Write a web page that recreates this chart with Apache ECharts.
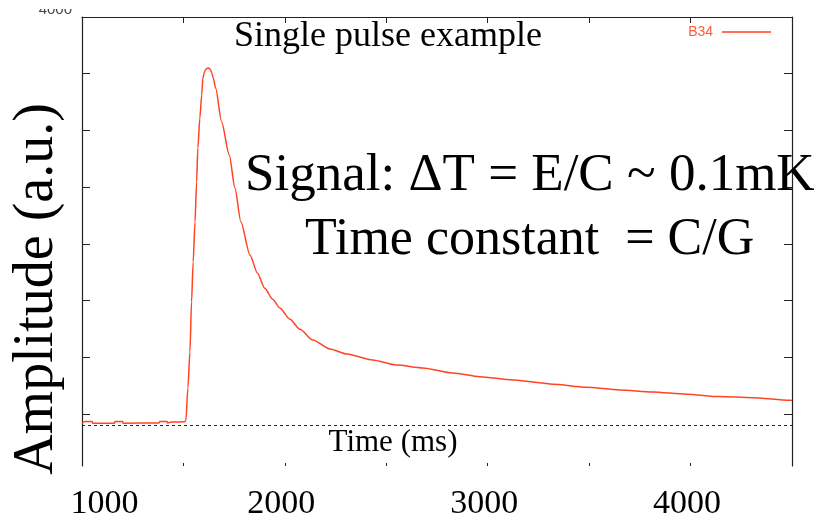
<!DOCTYPE html>
<html>
<head>
<meta charset="utf-8">
<script src="https://cdn.jsdelivr.net/npm/echarts@6/dist/echarts.min.js"></script>
<style>
  html, body { margin: 0; padding: 0; background: #fff; }
  #chart { width: 820px; height: 522px; }
</style>
</head>
<body>
<div id="chart"></div>
<script>
// Single detector pulse (channel B34): sample times and amplitudes
const timeMs = [
  1000, 1015, 1050, 1052, 1160, 1163, 1200, 1202, 1380, 1384, 1420, 1422,
  1443, 1505, 1512, 1522, 1532, 1540, 1548, 1557, 1565, 1571, 1581, 1590,
  1596, 1603, 1609, 1615, 1622, 1628, 1634, 1640, 1647, 1659, 1688, 1726,
  1754, 1783, 1828, 1865, 1901, 1940, 1975, 2025, 2074, 2138, 2222, 2305,
  2433, 2550, 2680, 2828, 2961, 3123, 3256, 3320, 3486, 3650, 3813, 3979,
  4143, 4306, 4488, 4500
];
const amplitude = [
  418, 432, 432, 418, 418, 432, 432, 418, 420, 432, 432, 420,
  428, 430, 440, 729, 1046, 1487, 1840, 2192, 2545, 2845, 3109, 3312,
  3462, 3510, 3535, 3546, 3550, 3546, 3533, 3505, 3462, 3371, 3077, 2783,
  2489, 2195, 1901, 1740, 1608, 1510, 1434, 1335, 1245, 1152, 1072, 1028,
  975, 931, 905, 861, 828, 799, 775, 761, 735, 711, 693, 673,
  652, 643, 620, 618
];
const seriesName = 'B34';
const baselineLevel = 400;
const xLabelValues = [1000, 2000, 3000, 4000];
const yTickValues = [500, 1000, 1500, 2000, 2500, 3000, 3500, 4000];
const yLabelValues = [4000];

const serif = '"Liberation Serif", "Times New Roman", serif';
const sans = '"Liberation Sans", Arial, sans-serif';
const frameColor = '#222';
const pulseColor = '#ff4424';

const chart = echarts.init(document.getElementById('chart'), null, { renderer: 'canvas' });

chart.setOption({
  animation: false,
  backgroundColor: '#fff',
  grid: { left: 82, right: 28, top: 17, bottom: 56, containLabel: false },
  legend: {
    data: [seriesName],
    right: 44,
    top: 20,
    align: 'right',
    icon: 'rect',
    itemWidth: 49,
    itemHeight: 1.5,
    formatter: name => name + ' ',
    textStyle: { color: '#ff5a3c', fontFamily: sans, fontSize: 14 }
  },
  xAxis: [
    {
      type: 'value', position: 'bottom', min: 1000, max: 4500, interval: 500,
      axisLine: { show: false },
      axisTick: { show: true, inside: true, length: 3, lineStyle: { color: frameColor } },
      splitLine: { show: false },
      axisLabel: {
        show: true, margin: 21, color: '#000', fontFamily: serif, fontSize: 34,
        showMinLabel: true, showMaxLabel: false, hideOverlap: false,
        formatter: v => {
          if (v === xLabelValues[0]) return '{first|' + v + '}';
          return xLabelValues.indexOf(v) >= 0 ? '{std|' + v + '}' : '';
        },
        rich: {
          first: { fontFamily: serif, fontSize: 34, color: '#000', padding: [0, 7, 0, 52] },
          std: { fontFamily: serif, fontSize: 34, color: '#000', padding: [0, 7, 0, 0] }
        }
      }
    },
    {
      type: 'value', position: 'top', min: 1000, max: 4500, interval: 500,
      axisLine: { show: true, lineStyle: { color: frameColor, width: 1.2 } },
      axisTick: { show: true, inside: true, length: 6, lineStyle: { color: frameColor } },
      axisLabel: { show: false },
      splitLine: { show: false }
    }
  ],
  yAxis: [
    {
      type: 'value', position: 'left', min: 40, max: 4000,
      axisLine: { show: true, lineStyle: { color: frameColor, width: 1.2 } },
      axisTick: { show: true, inside: true, length: 8, customValues: yTickValues, lineStyle: { color: frameColor } },
      splitLine: { show: false },
      axisLabel: {
        show: true, customValues: yLabelValues, margin: 10,
        color: '#444', fontFamily: sans, fontSize: 15,
        verticalAlign: 'bottom',
        formatter: v => (yLabelValues.indexOf(v) >= 0 ? String(v) : '')
      }
    },
    {
      type: 'value', position: 'right', min: 40, max: 4000,
      axisLine: { show: true, lineStyle: { color: frameColor, width: 1.2 } },
      axisTick: { show: true, inside: true, length: 8, customValues: yTickValues, lineStyle: { color: frameColor } },
      axisLabel: { show: false },
      splitLine: { show: false }
    }
  ],
  series: [
    {
      name: seriesName,
      type: 'line',
      xAxisIndex: 0,
      yAxisIndex: 0,
      symbol: 'none',
      smooth: 0.25,
      smoothMonotone: 'x',
      color: pulseColor,
      lineStyle: { color: pulseColor, width: 1.5 },
      data: timeMs.map((t, i) => [t, amplitude[i]]),
      markLine: {
        silent: true,
        symbol: ['none', 'none'],
        label: { show: false },
        lineStyle: { color: '#222', width: 1, type: [3, 3] },
        data: [{ yAxis: baselineLevel }]
      }
    }
  ],
  graphic: [
    // trims the tick label that runs off the top edge
    { type: 'rect', z: 100, shape: { x: 28, y: 0, width: 52, height: 9 }, style: { fill: '#fff' } },
    {
      type: 'text', z: 50,
      style: { x: 388, y: 37, text: 'Single pulse example', font: '36px ' + serif, fill: '#000', align: 'center', verticalAlign: 'middle' }
    },
    {
      type: 'text', z: 50,
      style: { x: 245, y: 176, text: 'Signal: \u0394T = E/C ~ 0.1mK', font: '53px ' + serif, fill: '#000', align: 'left', verticalAlign: 'middle' }
    },
    {
      type: 'text', z: 50,
      style: { x: 305, y: 240, text: 'Time constant  = C/G', font: '52px ' + serif, fill: '#000', align: 'left', verticalAlign: 'middle' }
    },
    {
      type: 'text', z: 50,
      style: { x: 393, y: 443, text: 'Time (ms)', font: '31px ' + serif, fill: '#000', align: 'center', verticalAlign: 'middle' }
    },
    {
      type: 'text', z: 50, x: 37, y: 289, rotation: Math.PI / 2,
      style: { x: 0, y: 0, text: 'Amplitude (a.u.)', font: '56px ' + serif, fill: '#000', align: 'center', verticalAlign: 'middle' }
    }
  ]
});
</script>
</body>
</html>
